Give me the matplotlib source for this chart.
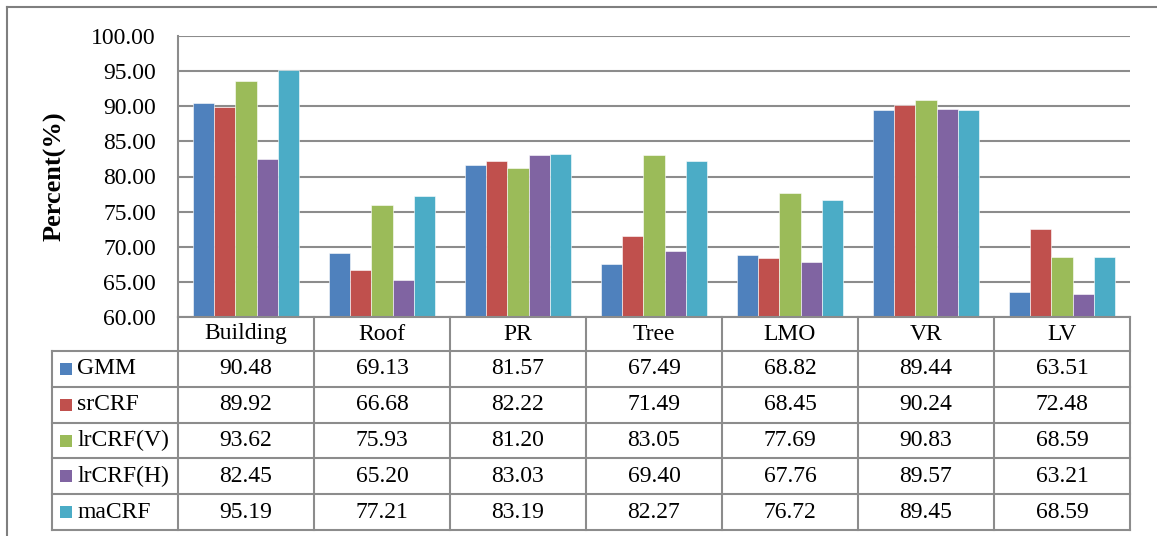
import matplotlib
matplotlib.use("Agg")
import matplotlib.pyplot as plt
from matplotlib.lines import Line2D
from matplotlib.patches import Rectangle
import numpy as np

# Per-class accuracy of each method
categories = ['Building', 'Roof', 'PR', 'Tree', 'LMO', 'VR', 'LV']
methods = ['GMM', 'srCRF', 'lrCRF(V)', 'lrCRF(H)', 'maCRF']
gmm = [90.48, 69.13, 81.57, 67.49, 68.82, 89.44, 63.51]
srcrf = [89.92, 66.68, 82.22, 71.49, 68.45, 90.24, 72.48]
lrcrf_v = [93.62, 75.93, 81.20, 83.05, 77.69, 90.83, 68.59]
lrcrf_h = [82.45, 65.20, 83.03, 69.40, 67.76, 89.57, 63.21]
macrf = [95.19, 77.21, 83.19, 82.27, 76.72, 89.45, 68.59]
series = [gmm, srcrf, lrcrf_v, lrcrf_h, macrf]
colors = ['#4F81BD', '#C0504D', '#9BBB59', '#8064A2', '#4BACC6']
y_ticks = [60, 65, 70, 75, 80, 85, 90, 95, 100]

W, H = 1157, 536
GRID = '#8C8C8C'
FONT = 'Liberation Serif'
FS = 17

plt.rcParams['font.family'] = FONT


def fx(px):
    return px / W


def fy(py):
    return 1 - py / H


fig = plt.figure(figsize=(W / 100, H / 100), dpi=100)

# plot area in pixel terms
x0, x1 = 178, 1130
y_top, y_bot = 36, 317
ax = fig.add_axes([fx(x0), fy(y_bot), fx(x1) - fx(x0), fy(y_top) - fy(y_bot)])

n_cat = len(categories)
bar_w = 0.155
for i, (vals, c) in enumerate(zip(series, colors)):
    xs = np.arange(n_cat) + 0.5 + (i - 2) * bar_w
    ax.bar(xs, np.array(vals) - 60, bottom=60, width=bar_w, color=c,
           edgecolor='white', linewidth=0.4, zorder=3)

ax.set_xlim(0, n_cat)
ax.set_ylim(60, 100)
ax.set_yticks(y_ticks)
ax.set_yticklabels([f'{v:.2f}' for v in y_ticks], fontsize=FS)
ax.set_xticks([])
ax.tick_params(axis='y', length=0, pad=16)
ax.grid(axis='y', color=GRID, linewidth=1.5, zorder=0)
for s in ['top', 'right', 'bottom']:
    ax.spines[s].set_visible(False)
ax.spines['left'].set_color(GRID)
ax.spines['left'].set_linewidth(1.5)
ax.set_facecolor('none')

fig.text(fx(55), fy(176), 'Percent(%)', rotation=90, ha='center', va='center',
         fontsize=19, fontweight='bold')

# data table under the plot
tbl_left = 52
col_w = (x1 - x0) / n_cat
hdr_bot = 351
row_h = (530 - hdr_bot) / len(methods)
tbl_bot = hdr_bot + row_h * len(methods)


def hline(xa, xb, py):
    fig.add_artist(Line2D([fx(xa), fx(xb)], [fy(py), fy(py)], color=GRID, lw=1.5))


def vline(px, ya, yb):
    fig.add_artist(Line2D([fx(px), fx(px)], [fy(ya), fy(yb)], color=GRID, lw=1.5))


hline(x0, x1, y_bot)
hline(tbl_left, x1, hdr_bot)
for r in range(1, len(methods) + 1):
    hline(tbl_left, x1, hdr_bot + r * row_h)
for c in range(n_cat + 1):
    vline(x0 + c * col_w, y_bot, tbl_bot)
vline(tbl_left, hdr_bot, tbl_bot)

for c, name in enumerate(categories):
    fig.text(fx(x0 + (c + 0.5) * col_w), fy((y_bot + hdr_bot) / 2), name,
             ha='center', va='center', fontsize=FS)

for r, (m, vals, col) in enumerate(zip(methods, series, colors)):
    cy = hdr_bot + (r + 0.5) * row_h
    fig.add_artist(Rectangle((fx(60), fy(cy + 6)), fx(12), 12 / H,
                             facecolor=col, edgecolor='none'))
    fig.text(fx(77), fy(cy), m, ha='left', va='center', fontsize=FS)
    for c, v in enumerate(vals):
        fig.text(fx(x0 + (c + 0.5) * col_w), fy(cy), f'{v:.2f}',
                 ha='center', va='center', fontsize=FS)

# chart frame
fig.add_artist(Line2D([fx(7), 1], [fy(7), fy(7)], color='#7F7F7F', lw=1.5))
fig.add_artist(Line2D([fx(7), fx(7)], [fy(7), 0], color='#7F7F7F', lw=1.5))

fig.savefig('out.png', dpi=100)
